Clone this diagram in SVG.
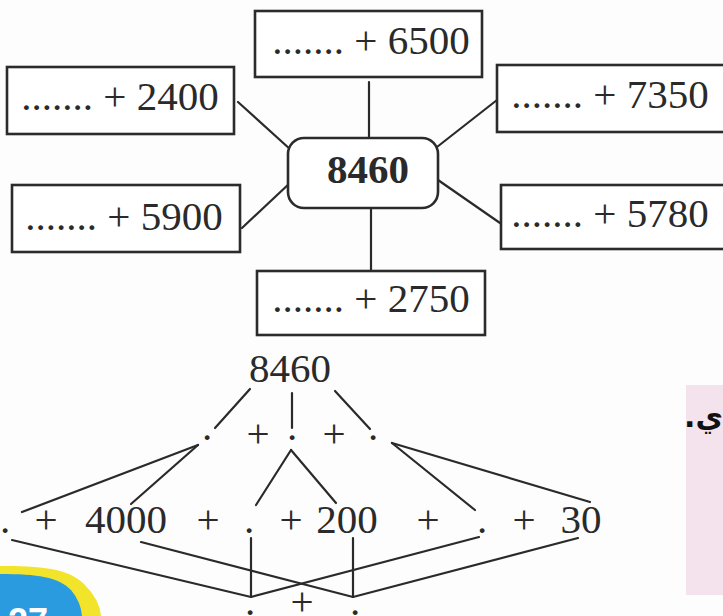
<svg xmlns="http://www.w3.org/2000/svg" width="723" height="616" viewBox="0 0 723 616">
<style>
.box{fill:#fff;stroke:#2b2b2b;stroke-width:2.6}
.t{font-family:"Liberation Serif","Times New Roman",serif;font-size:41px;fill:#2a2a2a;text-anchor:middle}
.b{font-weight:bold}
.c line{stroke:#2a2a2a;stroke-width:2.2;stroke-linecap:round}
</style>
<rect width="723" height="616" fill="#fdfdfd"/>
<g id="pink-panel">
<rect x="686" y="385" width="40" height="210" fill="#f4e3ec"/>
<text x="723" y="427" style="direction:rtl;unicode-bidi:embed" text-anchor="start" font-family="'DejaVu Sans',sans-serif" font-weight="bold" font-size="30" fill="#111">ي.</text>
</g>
<g id="badge">
<path d="M0 566 C40 566 68 568 84 584 Q100 600 101 616 L0 616 Z" fill="#f2e42a"/>
<path d="M0 574 C38 574 58 577 71 590 Q81 602 82 616 L0 616 Z" fill="#2b9be0"/>
<text x="8" y="634" font-family="'Liberation Sans',sans-serif" font-weight="bold" font-size="36" fill="#fff">27</text>
</g>
<g class="c" id="connectors">
<line x1="369" y1="82" x2="369" y2="140"/>
<line x1="238" y1="102" x2="291" y2="150"/>
<line x1="497" y1="100" x2="437" y2="147"/>
<line x1="242" y1="228" x2="291" y2="182"/>
<line x1="438" y1="180" x2="500" y2="223"/>
<line x1="371" y1="208" x2="371" y2="272"/>
<line x1="250" y1="389" x2="215" y2="428"/>
<line x1="292" y1="393" x2="292" y2="428"/>
<line x1="335" y1="391" x2="370" y2="429"/>
<line x1="198" y1="445" x2="22" y2="512"/>
<line x1="198" y1="445" x2="131" y2="504"/>
<line x1="291" y1="450" x2="256" y2="505"/>
<line x1="291" y1="450" x2="336" y2="503"/>
<line x1="392" y1="443" x2="475" y2="510"/>
<line x1="392" y1="443" x2="590" y2="502"/>
<line x1="12" y1="540" x2="251" y2="597"/>
<line x1="141" y1="542" x2="353" y2="597"/>
<line x1="251" y1="538" x2="251" y2="597"/>
<line x1="353" y1="538" x2="353" y2="597"/>
<line x1="479" y1="537" x2="251" y2="597"/>
<line x1="578" y1="538" x2="353" y2="597"/>
</g>
<g id="n6500"><rect class="box" x="255" y="11" width="227" height="66"/><text class="t" x="371" y="54">....... + 6500</text></g>
<g id="n2400"><rect class="box" x="7" y="67" width="227" height="67"/><text class="t" x="120" y="110">....... + 2400</text></g>
<g id="n7350"><rect class="box" x="497" y="65" width="240" height="67"/><text class="t" x="610" y="108">....... + 7350</text></g>
<g id="center"><rect class="box" x="288" y="138" width="150" height="70" rx="16"/><text class="t b" x="368" y="183">8460</text></g>
<g id="n5900"><rect class="box" x="12" y="185" width="228" height="67"/><text class="t" x="124" y="230">....... + 5900</text></g>
<g id="n5780"><rect class="box" x="501" y="185" width="240" height="64"/><text class="t" x="610" y="227">....... + 5780</text></g>
<g id="n2750"><rect class="box" x="257" y="271" width="228" height="64"/><text class="t" x="371" y="312">....... + 2750</text></g>
<g id="tree-top"><text class="t" x="290" y="382">8460</text></g>
<g id="tree-row2">
<text class="t" x="207" y="440">.</text>
<text class="t" x="258" y="447" font-size="38">+</text>
<text class="t" x="292" y="440">.</text>
<text class="t" x="334" y="447" font-size="38">+</text>
<text class="t" x="373" y="440">.</text>
</g>
<g id="tree-row3">
<text class="t" x="5" y="533">.</text>
<text class="t" x="46" y="533">+</text>
<text class="t" x="126" y="533">4000</text>
<text class="t" x="208" y="533">+</text>
<text class="t" x="249" y="533">.</text>
<text class="t" x="291" y="533">+</text>
<text class="t" x="347" y="533">200</text>
<text class="t" x="428" y="533">+</text>
<text class="t" x="482" y="533">.</text>
<text class="t" x="524" y="533">+</text>
<text class="t" x="581" y="533">30</text>
</g>
<g id="tree-row4">
<text class="t" x="250" y="615" font-size="32">.</text>
<text class="t" x="302" y="615" font-size="32">+</text>
<text class="t" x="355" y="615" font-size="32">.</text>
</g>
</svg>
